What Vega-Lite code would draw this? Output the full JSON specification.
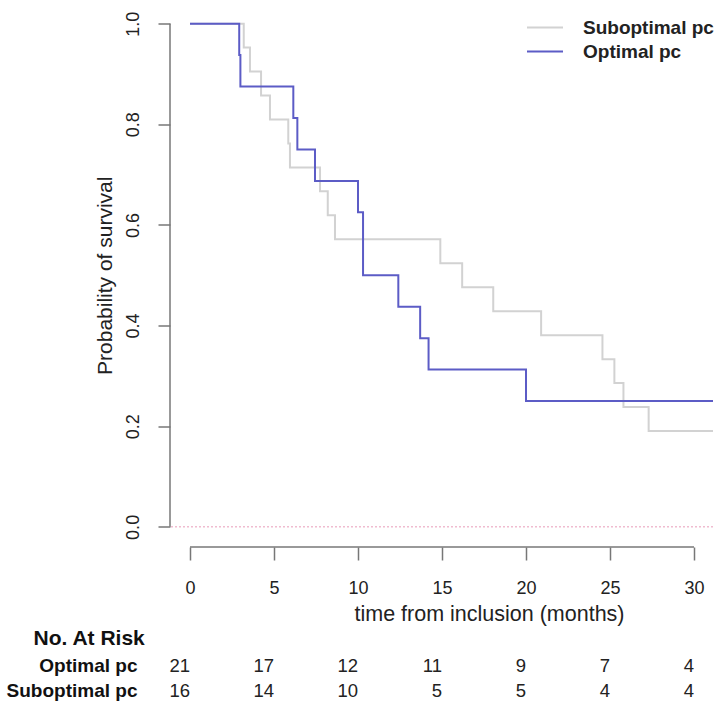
{
  "$schema": "https://vega.github.io/schema/vega-lite/v6.json",
  "background": "white",
  "padding": {"left": 6, "top": 3.5, "right": 0, "bottom": 0},
  "autosize": {"type": "pad"},
  "bounds": "flush",
  "spacing": 105.5,
  "config": {
    "view": {"stroke": null},
    "font": "Liberation Sans",
    "axis": {"labelFont": "Liberation Sans", "titleFont": "Liberation Sans", "grid": false},
    "legend": {"labelFont": "Liberation Sans"}
  },
  "datasets": {
    "one": [{"item": "guide"}],
    "km": [
      {"group": "Suboptimal pc", "time": 0, "surv": 1.0},
      {"group": "Suboptimal pc", "time": 3.2, "surv": 0.9524},
      {"group": "Suboptimal pc", "time": 3.57, "surv": 0.9048},
      {"group": "Suboptimal pc", "time": 4.23, "surv": 0.8571},
      {"group": "Suboptimal pc", "time": 4.76, "surv": 0.8095},
      {"group": "Suboptimal pc", "time": 5.85, "surv": 0.7619},
      {"group": "Suboptimal pc", "time": 5.95, "surv": 0.7143},
      {"group": "Suboptimal pc", "time": 7.74, "surv": 0.6667},
      {"group": "Suboptimal pc", "time": 8.2, "surv": 0.619},
      {"group": "Suboptimal pc", "time": 8.63, "surv": 0.5714},
      {"group": "Suboptimal pc", "time": 14.9, "surv": 0.5238},
      {"group": "Suboptimal pc", "time": 16.2, "surv": 0.4762},
      {"group": "Suboptimal pc", "time": 18.05, "surv": 0.4286},
      {"group": "Suboptimal pc", "time": 20.9, "surv": 0.381},
      {"group": "Suboptimal pc", "time": 24.55, "surv": 0.3333},
      {"group": "Suboptimal pc", "time": 25.26, "surv": 0.2857},
      {"group": "Suboptimal pc", "time": 25.8, "surv": 0.2381},
      {"group": "Suboptimal pc", "time": 27.3, "surv": 0.1905},
      {"group": "Suboptimal pc", "time": 31.13, "surv": 0.1905},
      {"group": "Optimal pc", "time": 0, "surv": 1.0},
      {"group": "Optimal pc", "time": 2.93, "surv": 0.9375},
      {"group": "Optimal pc", "time": 3.0, "surv": 0.875},
      {"group": "Optimal pc", "time": 6.15, "surv": 0.8125},
      {"group": "Optimal pc", "time": 6.39, "surv": 0.75},
      {"group": "Optimal pc", "time": 7.44, "surv": 0.6875},
      {"group": "Optimal pc", "time": 10.0, "surv": 0.625},
      {"group": "Optimal pc", "time": 10.3, "surv": 0.5},
      {"group": "Optimal pc", "time": 12.4, "surv": 0.4375},
      {"group": "Optimal pc", "time": 13.7, "surv": 0.375},
      {"group": "Optimal pc", "time": 14.2, "surv": 0.3125},
      {"group": "Optimal pc", "time": 20.0, "surv": 0.25},
      {"group": "Optimal pc", "time": 31.13, "surv": 0.25}
    ],
    "risk": [
      {"group": "Optimal pc", "time": 0, "n": 21},
      {"group": "Optimal pc", "time": 5, "n": 17},
      {"group": "Optimal pc", "time": 10, "n": 12},
      {"group": "Optimal pc", "time": 15, "n": 11},
      {"group": "Optimal pc", "time": 20, "n": 9},
      {"group": "Optimal pc", "time": 25, "n": 7},
      {"group": "Optimal pc", "time": 30, "n": 4},
      {"group": "Suboptimal pc", "time": 0, "n": 16},
      {"group": "Suboptimal pc", "time": 5, "n": 14},
      {"group": "Suboptimal pc", "time": 10, "n": 10},
      {"group": "Suboptimal pc", "time": 15, "n": 5},
      {"group": "Suboptimal pc", "time": 20, "n": 5},
      {"group": "Suboptimal pc", "time": 25, "n": 4},
      {"group": "Suboptimal pc", "time": 30, "n": 4}
    ]
  },
  "vconcat": [
    {
      "width": 543,
      "height": 543.5,
      "layer": [
        {
          "data": {"name": "one"},
          "mark": {"type": "rule", "color": "#f0bcd0", "strokeDash": [2, 2], "strokeWidth": 1.5},
          "encoding": {
            "y": {"datum": 0, "type": "quantitative", "scale": {"domain": [-0.04, 1.04], "nice": false, "zero": false}}
          }
        },
        {
          "data": {"name": "one"},
          "mark": {"type": "rule", "color": "#777777", "strokeWidth": 1.5},
          "encoding": {
            "x": {"datum": -1.19, "type": "quantitative", "scale": {"domain": [-1.19, 31.13], "nice": false, "zero": false}},
            "y": {"datum": 0, "type": "quantitative"},
            "y2": {"datum": 1}
          }
        },
        {
          "data": {"name": "one"},
          "mark": {"type": "rule", "color": "#777777", "strokeWidth": 1.5},
          "encoding": {
            "y": {"datum": -0.04, "type": "quantitative"},
            "x": {"datum": 0, "type": "quantitative"},
            "x2": {"datum": 30}
          }
        },
        {
          "data": {"name": "km"},
          "transform": [{"filter": "datum.group === 'Suboptimal pc'"}],
          "mark": {"type": "line", "interpolate": "step-after", "strokeWidth": 2},
          "encoding": {
            "x": {
              "field": "time", "type": "quantitative",
              "scale": {"domain": [-1.19, 31.13], "nice": false, "zero": false},
              "axis": {
                "values": [0, 5, 10, 15, 20, 25, 30],
                "domain": false, "grid": false,
                "tickSize": 13, "tickWidth": 1.5, "tickColor": "#777777",
                "labelFontSize": 18, "labelPadding": 19, "labelColor": "#222222",
                "labelFlush": false, "labelOverlap": false,
                "title": "time from inclusion (months)",
                "titleFontSize": 21.5, "titleFontWeight": "normal", "titleColor": "#222222",
                "titleX": 319, "titleY": 73, "titleAlign": "center", "titleBaseline": "alphabetic"
              }
            },
            "y": {
              "field": "surv", "type": "quantitative",
              "scale": {"domain": [-0.04, 1.04], "nice": false, "zero": false},
              "axis": {
                "values": [0, 0.2, 0.4, 0.6, 0.8, 1.0], "format": ".1f",
                "domain": false, "grid": false,
                "tickSize": 12, "tickWidth": 1.5, "tickColor": "#777777",
                "labelAngle": 270, "labelAlign": "center", "labelBaseline": "alphabetic",
                "labelPadding": 20, "labelFontSize": 18, "labelColor": "#222222",
                "labelOverlap": false,
                "title": "Probability of survival",
                "titleFontSize": 21, "titleFontWeight": "normal", "titleColor": "#222222",
                "titleAngle": 270, "titleX": -65, "titleY": 271.75,
                "titleAlign": "center", "titleBaseline": "middle"
              }
            },
            "color": {
              "field": "group", "type": "nominal",
              "scale": {"domain": ["Suboptimal pc", "Optimal pc"], "range": ["#d2d2d2", "#5c5cc6"]},
              "legend": {
                "orient": "none", "legendX": 365, "legendY": 14, "title": null,
                "symbolType": "M-2,0H2", "symbolSize": 324, "symbolStrokeWidth": 2,
                "symbolFillColor": "transparent",
                "labelFontSize": 19, "labelFontWeight": "bold", "labelColor": "#222222",
                "labelOffset": 28, "rowPadding": 4, "padding": 0, "direction": "vertical"
              }
            }
          }
        },
        {
          "data": {"name": "km"},
          "transform": [{"filter": "datum.group === 'Optimal pc'"}],
          "mark": {"type": "line", "interpolate": "step-after", "strokeWidth": 2},
          "encoding": {
            "x": {"field": "time", "type": "quantitative", "title": "time from inclusion (months)"},
            "y": {"field": "surv", "type": "quantitative", "title": "Probability of survival"},
            "color": {"field": "group", "type": "nominal"}
          }
        }
      ]
    },
    {
      "width": 543,
      "height": 50,
      "data": {"name": "risk"},
      "mark": {"type": "text", "align": "right", "baseline": "middle", "fontSize": 18.5, "color": "#222222"},
      "encoding": {
        "x": {
          "field": "time", "type": "quantitative",
          "scale": {"domain": [-1.19, 31.13], "nice": false, "zero": false},
          "axis": null
        },
        "y": {
          "field": "group", "type": "nominal",
          "scale": {"domain": ["Optimal pc", "Suboptimal pc"], "padding": 0.5},
          "axis": {
            "title": "No. At Risk",
            "domain": false, "ticks": false, "tickSize": 0, "grid": false,
            "labelPadding": 33, "labelFontSize": 19, "labelFontWeight": "bold",
            "labelColor": "#111111", "labelAlign": "right", "labelBaseline": "middle", "labelLimit": 0,
            "titleAngle": 0, "titleAlign": "left", "titleBaseline": "middle",
            "titleX": -137, "titleY": -14.5,
            "titleFontSize": 21, "titleFontWeight": "bold", "titleColor": "#111111"
          }
        },
        "text": {"field": "n", "type": "quantitative"}
      }
    }
  ]
}
